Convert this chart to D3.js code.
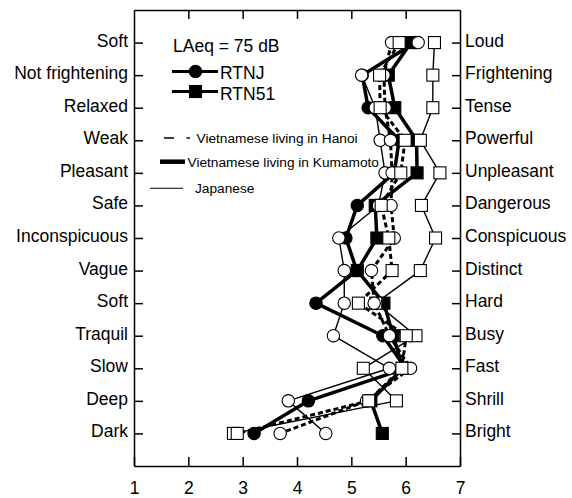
<!DOCTYPE html>
<html>
<head>
<meta charset="utf-8">
<script src="https://cdn.jsdelivr.net/npm/d3@7"></script>
<style>
  html, body { margin: 0; padding: 0; background: #fff; }
  svg { display: block; font-family: "Liberation Sans", Arial, sans-serif; }
</style>
</head>
<body>
<svg id="chart" width="572" height="498"></svg>
<script>
// Semantic differential profiles, LAeq = 75 dB
const leftLabels = ["Soft", "Not frightening", "Relaxed", "Weak", "Pleasant", "Safe",
  "Inconspicuous", "Vague", "Soft", "Traquil", "Slow", "Deep", "Dark"];
const rightLabels = ["Loud", "Frightening", "Tense", "Powerful", "Unpleasant", "Dangerous",
  "Conspicuous", "Distinct", "Hard", "Busy", "Fast", "Shrill", "Bright"];
const xTicks = [1, 2, 3, 4, 5, 6, 7];

const hanoiRTNJ     = [5.74, 5.60, 5.62, 5.72, 5.75, 5.73, 5.79, 5.37, 5.42, 5.70, 6.09, 5.28, 3.69];
const hanoiRTN51    = [5.88, 5.52, 5.53, 5.99, 5.91, 5.55, 5.69, 5.75, 5.13, 6.01, 5.93, 5.32, 2.90];
const kumamotoRTNJ  = [6.17, 5.20, 5.31, 5.88, 5.79, 5.11, 4.90, 5.10, 4.35, 5.58, 6.00, 4.21, 3.21];
const kumamotoRTN51 = [6.10, 5.68, 5.80, 6.20, 6.21, 5.44, 5.47, 5.11, 5.60, 5.77, 5.95, 5.36, 5.57];
const japaneseRTNJ  = [6.23, 5.19, 5.44, 5.53, 5.62, 5.50, 4.77, 4.87, 4.87, 4.67, 5.70, 3.84, 4.53];
const japaneseRTN51 = [6.53, 6.50, 6.50, 6.27, 6.63, 6.29, 6.55, 6.27, 5.45, 6.19, 5.22, 5.83, 2.83];

// line styles per group, marker per sound
const series = [
  { values: japaneseRTNJ,  marker: "circle", filled: false, style: "thin" },
  { values: japaneseRTN51, marker: "square", filled: false, style: "thin" },
  { values: hanoiRTNJ,     marker: "circle", filled: false, style: "dash" },
  { values: hanoiRTN51,    marker: "square", filled: false, style: "dash" },
  { values: kumamotoRTNJ,  marker: "circle", filled: true,  style: "thick" },
  { values: kumamotoRTN51, marker: "square", filled: true,  style: "thick" }
];
const strokeStyles = {
  thin:  { width: 1.4, dash: null },
  dash:  { width: 3,   dash: "5,3" },
  thick: { width: 3.5, dash: null }
};

const svg = d3.select("#chart");
svg.append("rect").attr("width", 572).attr("height", 498).attr("fill", "#fff");

const x = d3.scaleLinear().domain([1, 7]).range([134, 460]);
const y = d3.scaleLinear().domain([-1, 13]).range([10, 466]);
const rows = d3.range(leftLabels.length);

// frame and axes
const axisFont = 17.5;
function styleAxis(g) {
  g.selectAll(".domain").attr("stroke", "#000").attr("stroke-width", 1.5);
  g.selectAll(".tick line").attr("stroke", "#000").attr("stroke-width", 1.5);
  g.selectAll("text").attr("font-size", axisFont).attr("font-family", "Liberation Sans, Arial, sans-serif").attr("fill", "#000");
}

svg.append("g")
  .attr("transform", `translate(0,${y(13)})`)
  .call(d3.axisBottom(x).tickValues(xTicks).tickFormat(d3.format("d"))
    .tickSizeInner(-9).tickSizeOuter(0).tickPadding(16))
  .call(styleAxis);

svg.append("g")
  .attr("transform", `translate(0,${y(-1)})`)
  .call(d3.axisTop(x).tickValues([2, 3, 4, 5, 6]).tickFormat("")
    .tickSizeInner(-9).tickSizeOuter(0))
  .call(styleAxis);

const leftAxis = svg.append("g")
  .attr("transform", `translate(${x(1)},0)`)
  .call(d3.axisLeft(y).tickValues(rows).tickFormat(i => leftLabels[i])
    .tickSizeInner(-9).tickSizeOuter(0).tickPadding(6))
  .call(styleAxis);
leftAxis.selectAll("text").attr("dy", "0.2em");

const rightAxis = svg.append("g")
  .attr("transform", `translate(${x(7)},0)`)
  .call(d3.axisRight(y).tickValues(rows).tickFormat(i => rightLabels[i])
    .tickSizeInner(-8).tickSizeOuter(0).tickPadding(5))
  .call(styleAxis);
rightAxis.selectAll("text").attr("dy", "0.2em");

// profile lines
const line = d3.line().x(d => x(d)).y((d, i) => y(i));
const plot = svg.append("g");
series.forEach(s => {
  const st = strokeStyles[s.style];
  plot.append("path")
    .datum(s.values)
    .attr("d", line)
    .attr("fill", "none")
    .attr("stroke", "#000")
    .attr("stroke-width", st.width)
    .attr("stroke-dasharray", st.dash)
    .attr("stroke-linejoin", "round");
});

// markers
const R = 6.2, S = 12;
function drawMarker(g, type, filled, cx, cy) {
  const fill = filled ? "#000" : "#fff";
  if (type === "circle") {
    g.append("circle").attr("cx", cx).attr("cy", cy).attr("r", R)
      .attr("fill", fill).attr("stroke", "#000").attr("stroke-width", 1.1);
  } else {
    g.append("rect").attr("x", cx - S / 2).attr("y", cy - S / 2)
      .attr("width", S).attr("height", S)
      .attr("fill", fill).attr("stroke", "#000").attr("stroke-width", 1.1);
  }
}
const drawOrder = [4, 5, 0, 1, 2, 3];
drawOrder.forEach(k => {
  const s = series[k];
  s.values.forEach((v, i) => drawMarker(plot, s.marker, s.filled, x(v), y(i)));
});

// legend
const lg = svg.append("g").attr("fill", "#000");
lg.append("text").attr("x", 173).attr("y", 52).attr("font-size", 17.5).text("LAeq = 75 dB");

lg.append("line").attr("x1", 172).attr("x2", 218).attr("y1", 71.5).attr("y2", 71.5)
  .attr("stroke", "#000").attr("stroke-width", 3);
drawMarker(lg, "circle", true, 195.5, 71.5);
lg.append("text").attr("x", 220).attr("y", 79).attr("font-size", 17.5).text("RTNJ");

lg.append("line").attr("x1", 172).attr("x2", 218).attr("y1", 91.5).attr("y2", 91.5)
  .attr("stroke", "#000").attr("stroke-width", 3);
drawMarker(lg, "square", true, 195.5, 91.5);
lg.append("text").attr("x", 220).attr("y", 99.5).attr("font-size", 17.5).text("RTN51");

lg.append("line").attr("x1", 164).attr("x2", 190).attr("y1", 138).attr("y2", 138)
  .attr("stroke", "#000").attr("stroke-width", 1.3).attr("stroke-dasharray", "10,12.5,3.5");
lg.append("text").attr("x", 196.5).attr("y", 143.3).attr("font-size", 13.7).text("Vietnamese living in Hanoi");

lg.append("line").attr("x1", 160).attr("x2", 185).attr("y1", 161.7).attr("y2", 161.7)
  .attr("stroke", "#000").attr("stroke-width", 4.5);
lg.append("text").attr("x", 187.5).attr("y", 167.3).attr("font-size", 13.7).text("Vietnamese living in Kumamoto");

lg.append("line").attr("x1", 150).attr("x2", 183).attr("y1", 188.3).attr("y2", 188.3)
  .attr("stroke", "#000").attr("stroke-width", 1.1);
lg.append("text").attr("x", 195).attr("y", 193.3).attr("font-size", 13.7).text("Japanese");
</script>
</body>
</html>
